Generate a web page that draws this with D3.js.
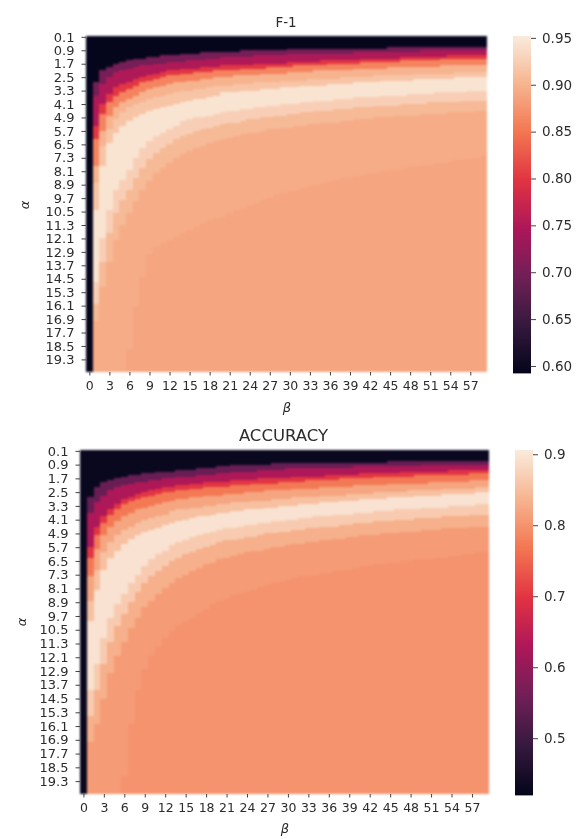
<!DOCTYPE html>
<html>
<head>
<meta charset="utf-8">
<script src="https://cdn.jsdelivr.net/npm/d3@7"></script>
<style>
    html, body { margin: 0; background: #fff; }
    svg { display: block; filter: blur(0.5px); }
    text { font-family: "DejaVu Sans", sans-serif; fill: #2c2c2c; }
    .cells { filter: blur(0.8px); }
    .cells rect { shape-rendering: crispEdges; }
</style>
</head>
<body>
<svg id="chart" width="579" height="839"></svg>
<script>
const betaTicks = [0, 3, 6, 9, 12, 15, 18, 21, 24, 27, 30, 33, 36, 39, 42, 45, 48, 51, 54, 57]
const alphaTicks = [0.1, 0.9, 1.7, 2.5, 3.3, 4.1, 4.9, 5.7, 6.5, 7.3, 8.1, 8.9, 9.7, 10.5, 11.3, 12.1, 12.9, 13.7, 14.5, 15.3, 16.1, 16.9, 17.7, 18.5, 19.3]
const betaColumns = d3.range(60)

// rocket colormap stops
const rocketStops = [0, 0.143, 0.286, 0.429, 0.571, 0.714, 0.857, 1]
const rocketColors = ["#03051a", "#35193e", "#701f57", "#ad1759", "#e13342", "#f37651", "#f6b48f", "#faebdd"]

// value of each band, top to bottom, read against the colorbars
const f1Levels = [0.595, 0.70, 0.75, 0.80, 0.86, 0.90, 0.916, 0.945, 0.926, 0.906, 0.894, 0.889]
const accLevels = [0.43, 0.55, 0.63, 0.70, 0.77, 0.82, 0.852, 0.895, 0.866, 0.832, 0.808, 0.80]
const f1Ticks = [0.60, 0.65, 0.70, 0.75, 0.80, 0.85, 0.90, 0.95]
const accTicks = [0.5, 0.6, 0.7, 0.8, 0.9]

// alpha where each band ends, one entry per beta column
const f1E1 = [20.1,2.8,2.1,1.9,1.7,1.6,1.5,1.4,1.4,1.3,1.3,1.2,1.2,1.2,1.1,1.1,1.1,1.0,1.0,1.0,1.0,1.0,1.0,.9,.9,.9,.9,.9,.9,.9,.8,.8,.8,.8,.8,.8,.8,.8,.8,.8,.8,.8,.8,.8,.8,.7,.7,.7,.7,.7,.7,.7,.7,.7,.7,.7,.7,.7,.7,.7]
const f1E2 = [20.1,3.6,2.9,2.5,2.2,2.1,2.0,1.9,1.8,1.8,1.7,1.7,1.6,1.6,1.6,1.5,1.5,1.5,1.4,1.4,1.3,1.3,1.3,1.3,1.3,1.2,1.2,1.2,1.2,1.2,1.1,1.1,1.1,1.1,1.1,1.1,1.1,1.1,1.1,1.1,1.0,1.0,1.0,1.0,1.0,1.0,1.0,1.0,1.0,1.0,.9,.9,.9,.9,.9,.9,.9,.9,.9,.9]
const f1E3 = [20.1,5.4,4.1,3.5,3.1,2.9,2.8,2.6,2.5,2.4,2.3,2.2,2.1,2.1,2.0,2.0,2.0,1.9,1.9,1.9,1.8,1.8,1.8,1.8,1.8,1.7,1.7,1.7,1.7,1.7,1.6,1.6,1.6,1.6,1.6,1.5,1.5,1.5,1.5,1.5,1.5,1.4,1.4,1.4,1.4,1.4,1.4,1.3,1.3,1.3,1.3,1.3,1.3,1.3,1.2,1.2,1.2,1.2,1.2,1.2]
const f1E4 = [20.1,6.2,4.7,4.0,3.6,3.4,3.2,3.0,2.8,2.7,2.6,2.5,2.4,2.4,2.3,2.3,2.2,2.2,2.2,2.1,2.1,2.1,2.1,2.0,2.0,2.0,2.0,1.9,1.9,1.9,1.9,1.8,1.8,1.8,1.8,1.8,1.7,1.7,1.7,1.7,1.7,1.6,1.6,1.6,1.6,1.6,1.6,1.5,1.5,1.5,1.5,1.5,1.5,1.4,1.4,1.4,1.4,1.4,1.4,1.4]
const f1E5 = [20.1,7.8,5.7,4.8,4.3,4.0,3.8,3.6,3.4,3.2,3.1,3.0,2.9,2.8,2.8,2.7,2.7,2.6,2.6,2.5,2.5,2.5,2.4,2.4,2.4,2.4,2.3,2.3,2.3,2.3,2.2,2.2,2.2,2.2,2.1,2.1,2.1,2.1,2.1,2.1,2.0,2.0,2.0,2.0,2.0,1.9,1.9,1.9,1.9,1.9,1.9,1.9,1.9,1.8,1.8,1.8,1.8,1.8,1.8,1.8]
const f1E6 = [20.1,8.8,6.6,5.6,5.0,4.6,4.3,4.1,4.0,3.8,3.7,3.6,3.5,3.4,3.3,3.3,3.2,3.2,3.1,3.0,3.0,3.0,2.9,2.9,2.9,2.8,2.8,2.8,2.8,2.7,2.7,2.7,2.7,2.6,2.6,2.6,2.6,2.6,2.5,2.5,2.5,2.5,2.5,2.4,2.4,2.4,2.4,2.4,2.4,2.3,2.3,2.3,2.3,2.3,2.3,2.2,2.2,2.2,2.2,2.2]
const f1E7 = [20.1,10.4,7.8,6.4,5.8,5.4,5.1,4.9,4.7,4.5,4.4,4.3,4.2,4.1,4.0,3.9,3.8,3.8,3.7,3.6,3.4,3.4,3.4,3.3,3.3,3.3,3.2,3.2,3.2,3.1,3.1,3.1,3.0,3.0,3.0,3.0,2.9,2.9,2.9,2.9,2.8,2.8,2.8,2.8,2.7,2.7,2.7,2.7,2.7,2.6,2.6,2.6,2.6,2.6,2.6,2.5,2.5,2.5,2.5,2.5]
const f1E8 = [20.1,14.7,12.1,10.4,9.2,8.6,8.0,7.3,6.7,6.3,6.0,5.8,5.6,5.4,5.1,5.0,4.9,4.9,4.8,4.7,4.6,4.5,4.5,4.4,4.4,4.3,4.3,4.2,4.2,4.1,4.1,4.1,4.0,4.0,3.9,3.9,3.9,3.8,3.8,3.8,3.7,3.7,3.7,3.7,3.6,3.6,3.6,3.6,3.5,3.5,3.5,3.5,3.4,3.4,3.4,3.4,3.4,3.3,3.3,3.3]
const f1E9 = [20.1,16.0,13.5,11.8,10.6,9.8,9.2,8.5,7.9,7.4,7.0,6.7,6.5,6.2,6.0,5.9,5.7,5.6,5.5,5.4,5.3,5.2,5.2,5.1,5.0,5.0,4.9,4.9,4.8,4.8,4.7,4.7,4.6,4.6,4.5,4.5,4.5,4.4,4.4,4.4,4.3,4.3,4.3,4.2,4.2,4.2,4.2,4.1,4.1,4.1,4.1,4.0,4.0,4.0,4.0,4.0,3.9,3.9,3.9,3.9]
const f1E10 = [20.1,17.0,15.0,13.5,12.2,11.3,10.6,9.9,9.2,8.7,8.2,7.9,7.6,7.3,7.1,6.9,6.7,6.6,6.4,6.3,6.2,6.1,6.0,5.9,5.8,5.8,5.7,5.6,5.6,5.5,5.5,5.4,5.4,5.3,5.3,5.2,5.2,5.2,5.1,5.1,5.0,5.0,5.0,4.9,4.9,4.9,4.8,4.8,4.8,4.8,4.7,4.7,4.7,4.7,4.6,4.6,4.6,4.6,4.5,4.5]
const f1E11 = [20.1,20.1,20.1,20.1,20.1,20.1,18.7,16.2,14.4,13.0,12.6,12.4,12.2,12.0,11.8,11.6,11.4,11.2,11.0,10.9,10.8,10.6,10.4,10.3,10.1,10.0,9.8,9.7,9.5,9.4,9.3,9.2,9.1,9.0,8.9,8.8,8.7,8.6,8.5,8.5,8.4,8.3,8.2,8.2,8.1,8.0,8.0,7.9,7.8,7.8,7.7,7.7,7.6,7.6,7.5,7.4,7.4,7.3,7.3,7.2]

const accE1 = [20.1,2.8,2.2,1.9,1.8,1.7,1.6,1.5,1.5,1.4,1.4,1.3,1.3,1.3,1.2,1.2,1.2,1.1,1.1,1.1,1.0,1.0,.9,.9,.9,.9,.9,.9,.8,.8,.8,.8,.8,.8,.8,.8,.8,.8,.8,.8,.8,.8,.8,.8,.8,.7,.7,.7,.7,.7,.7,.7,.7,.7,.7,.7,.7,.7,.7,.7]
const accE2 = [20.1,3.7,3.1,2.7,2.4,2.2,2.1,2.0,1.9,1.9,1.8,1.8,1.7,1.7,1.6,1.6,1.6,1.5,1.5,1.5,1.4,1.4,1.3,1.3,1.3,1.3,1.2,1.2,1.2,1.2,1.1,1.1,1.1,1.1,1.1,1.1,1.1,1.1,1.1,1.1,1.0,1.0,1.0,1.0,1.0,1.0,1.0,1.0,1.0,1.0,.9,.9,.9,.9,.9,.9,.9,.9,.9,.9]
const accE3 = [20.1,5.7,4.5,3.9,3.5,3.2,2.9,2.8,2.6,2.5,2.4,2.3,2.2,2.2,2.1,2.1,2.0,2.0,1.9,1.9,1.9,1.9,1.8,1.8,1.8,1.8,1.7,1.7,1.7,1.7,1.7,1.6,1.6,1.6,1.6,1.6,1.5,1.5,1.5,1.5,1.5,1.4,1.4,1.4,1.4,1.4,1.4,1.3,1.3,1.3,1.3,1.3,1.3,1.3,1.2,1.2,1.2,1.2,1.2,1.2]
const accE4 = [20.1,6.3,5.0,4.3,3.8,3.5,3.2,3.0,2.9,2.8,2.7,2.6,2.5,2.5,2.4,2.4,2.3,2.3,2.2,2.2,2.2,2.2,2.1,2.1,2.1,2.0,2.0,2.0,2.0,1.9,1.9,1.9,1.9,1.8,1.8,1.8,1.8,1.8,1.7,1.7,1.7,1.7,1.7,1.6,1.6,1.6,1.6,1.6,1.6,1.5,1.5,1.5,1.5,1.5,1.5,1.5,1.5,1.4,1.4,1.4]
const accE5 = [20.1,7.4,5.8,5.0,4.5,4.2,3.9,3.7,3.5,3.4,3.3,3.2,3.1,3.0,2.9,2.9,2.8,2.8,2.7,2.7,2.7,2.6,2.6,2.6,2.5,2.5,2.5,2.4,2.4,2.4,2.4,2.3,2.3,2.3,2.3,2.2,2.2,2.2,2.2,2.2,2.1,2.1,2.1,2.1,2.1,2.0,2.0,2.0,2.0,2.0,2.0,1.9,1.9,1.9,1.9,1.9,1.9,1.8,1.8,1.8]
const accE6 = [20.1,8.8,7.0,6.0,5.4,5.0,4.7,4.5,4.3,4.1,4.0,3.9,3.8,3.6,3.5,3.5,3.4,3.4,3.3,3.3,3.2,3.2,3.1,3.1,3.1,3.0,3.0,3.0,2.9,2.9,2.9,2.8,2.8,2.8,2.8,2.7,2.7,2.7,2.7,2.6,2.6,2.6,2.6,2.5,2.5,2.5,2.5,2.5,2.4,2.4,2.4,2.4,2.4,2.3,2.3,2.3,2.3,2.3,2.2,2.2]
const accE7 = [20.1,10.0,8.2,7.0,6.3,5.9,5.5,5.2,5.0,4.8,4.7,4.6,4.4,4.3,4.2,4.1,4.0,3.9,3.9,3.8,3.7,3.7,3.6,3.6,3.5,3.5,3.5,3.4,3.4,3.3,3.3,3.3,3.2,3.2,3.2,3.1,3.1,3.1,3.0,3.0,3.0,2.9,2.9,2.9,2.9,2.8,2.8,2.8,2.8,2.7,2.7,2.7,2.7,2.6,2.6,2.6,2.6,2.6,2.5,2.5]
const accE8 = [20.1,14.0,12.5,11.0,9.8,9.0,8.4,7.8,7.3,6.8,6.4,6.1,5.9,5.6,5.4,5.3,5.1,5.0,4.9,4.8,4.7,4.6,4.6,4.5,4.4,4.4,4.3,4.3,4.2,4.2,4.1,4.1,4.0,4.0,3.9,3.9,3.9,3.8,3.8,3.8,3.7,3.7,3.7,3.6,3.6,3.6,3.5,3.5,3.5,3.5,3.4,3.4,3.4,3.4,3.3,3.3,3.3,3.3,3.2,3.2]
const accE9 = [20.1,15.5,14.0,12.5,11.2,10.3,9.6,8.9,8.3,7.8,7.4,7.1,6.8,6.5,6.3,6.1,6.0,5.8,5.7,5.6,5.4,5.3,5.3,5.2,5.1,5.1,5.0,4.9,4.9,4.8,4.8,4.7,4.7,4.6,4.6,4.5,4.5,4.5,4.4,4.4,4.3,4.3,4.3,4.2,4.2,4.2,4.1,4.1,4.1,4.0,4.0,4.0,4.0,3.9,3.9,3.9,3.9,3.8,3.8,3.8]
const accE10 = [20.1,17.0,16.0,14.5,13.0,12.0,11.2,10.4,9.8,9.2,8.8,8.4,8.1,7.8,7.5,7.3,7.1,6.9,6.7,6.6,6.4,6.3,6.2,6.1,6.0,5.9,5.9,5.8,5.7,5.7,5.6,5.5,5.5,5.4,5.4,5.3,5.3,5.2,5.2,5.1,5.1,5.0,5.0,5.0,4.9,4.9,4.9,4.8,4.8,4.8,4.7,4.7,4.7,4.6,4.6,4.6,4.6,4.5,4.5,4.5]
const accE11 = [20.1,20.1,20.1,20.1,20.1,20.1,19.0,16.0,14.0,12.8,12.0,11.5,11.0,10.6,10.2,10.0,9.8,9.5,9.3,9.0,8.8,8.7,8.5,8.4,8.3,8.2,8.0,7.9,7.8,7.7,7.6,7.5,7.4,7.4,7.3,7.2,7.2,7.1,7.0,7.0,6.9,6.8,6.8,6.7,6.7,6.6,6.6,6.5,6.5,6.4,6.4,6.4,6.3,6.3,6.2,6.2,6.1,6.1,6.0,6.0]

const f1Edges = [f1E1, f1E2, f1E3, f1E4, f1E5, f1E6, f1E7, f1E8, f1E9, f1E10, f1E11]
const accEdges = [accE1, accE2, accE3, accE4, accE5, accE6, accE7, accE8, accE9, accE10, accE11]

const ALPHA_START = 0.05
const ALPHA_END = 20.05
const svg = d3.select("#chart")

/* Draws one heatmap with its axes, title and colorbar */
function drawPanel(panel) {
    const { title, levels, edges, vmin, vmax, cbarTicks, cbarFormat, box, bar, titleX, titleY, alphaX, alphaY, betaX, betaY } = panel
    const g = svg.append("g")

    const color = d3.scaleLinear()
        .domain(rocketStops.map(s => vmin + s * (vmax - vmin)))
        .range(rocketColors)
    const x = d3.scaleBand().domain(betaColumns).range([box.left, box.right])
    const y = d3.scaleLinear().domain([ALPHA_START, ALPHA_END]).range([box.top, box.bottom]).clamp(true)

    // one rect per band per column
    const cells = betaColumns.flatMap(col => levels.map((value, i) => ({
        col,
        value,
        from: i === 0 ? ALPHA_START : edges[i - 1][col],
        to: i === levels.length - 1 ? ALPHA_END : edges[i][col]
    }))).filter(d => d.to > d.from)

    g.append("g").attr("class", "cells").selectAll("rect")
        .data(cells)
        .join("rect")
        .attr("x", d => x(d.col))
        .attr("width", x.bandwidth())
        .attr("y", d => y(d.from))
        .attr("height", d => y(d.to) - y(d.from))
        .attr("fill", d => color(d.value))

    const xTick = d3.scaleLinear().domain([0, 1]).range([box.left + x.bandwidth() / 2, box.left + x.bandwidth() * 1.5])
    const xAxis = d3.axisBottom(xTick).tickValues(betaTicks).tickFormat(d3.format("d")).tickSize(3.5).tickPadding(5.5)
    const yAxis = d3.axisLeft(y).tickValues(alphaTicks).tickFormat(d3.format(".1f")).tickSize(4.5).tickPadding(7)

    const styleAxis = (a, size) => {
        a.select(".domain").remove()
        a.selectAll("line").attr("stroke", "#444")
        a.selectAll("text").attr("font-size", size).attr("font-family", "DejaVu Sans").attr("fill", "#2c2c2c")
    }
    g.append("g").attr("transform", `translate(0,${box.bottom})`).call(xAxis).call(styleAxis, 12.5)
    g.append("g").attr("transform", `translate(${box.left},0)`).call(yAxis).call(styleAxis, 13)

    g.append("text")
        .attr("x", titleX)
        .attr("y", titleY)
        .attr("text-anchor", "middle")
        .attr("font-size", panel.titleSize)
        .text(title)

    g.append("text")
        .attr("transform", `translate(${alphaX},${alphaY}) rotate(-90)`)
        .attr("text-anchor", "middle")
        .attr("font-size", 13)
        .attr("font-style", "italic")
        .text("α")

    g.append("text")
        .attr("x", betaX)
        .attr("y", betaY)
        .attr("text-anchor", "middle")
        .attr("font-size", 13)
        .attr("font-style", "italic")
        .text("β")

    // colorbar
    const cbarY = d3.scaleLinear().domain([vmin, vmax]).range([bar.bottom, bar.top])
    const steps = d3.range(bar.top, bar.bottom)
    g.append("g").selectAll("rect")
        .data(steps)
        .join("rect")
        .attr("x", bar.left)
        .attr("width", bar.right - bar.left)
        .attr("y", d => d)
        .attr("height", 1.4)
        .attr("fill", d => color(cbarY.invert(d + 0.5)))

    const cbarAxis = d3.axisRight(cbarY).tickValues(cbarTicks).tickFormat(d3.format(cbarFormat)).tickSize(5).tickPadding(6)
    g.append("g").attr("transform", `translate(${bar.right},0)`).call(cbarAxis).call(styleAxis, 13.5)
}

drawPanel({
    title: "F-1",
    titleSize: 13.5,
    levels: f1Levels,
    edges: f1Edges,
    vmin: 0.5925,
    vmax: 0.952,
    cbarTicks: f1Ticks,
    cbarFormat: ".2f",
    box: { left: 86, right: 487, top: 36, bottom: 372 },
    bar: { left: 513, right: 531, top: 36, bottom: 373 },
    titleX: 286,
    titleY: 27,
    alphaX: 29,
    alphaY: 205,
    betaX: 287,
    betaY: 412
})

drawPanel({
    title: "ACCURACY",
    titleSize: 16.5,
    levels: accLevels,
    edges: accEdges,
    vmin: 0.42,
    vmax: 0.906,
    cbarTicks: accTicks,
    cbarFormat: ".1f",
    box: { left: 80, right: 489, top: 450, bottom: 794 },
    bar: { left: 515, right: 533, top: 450, bottom: 795 },
    titleX: 283.5,
    titleY: 441,
    alphaX: 26,
    alphaY: 622,
    betaX: 285,
    betaY: 833
})
</script>
</body>
</html>
